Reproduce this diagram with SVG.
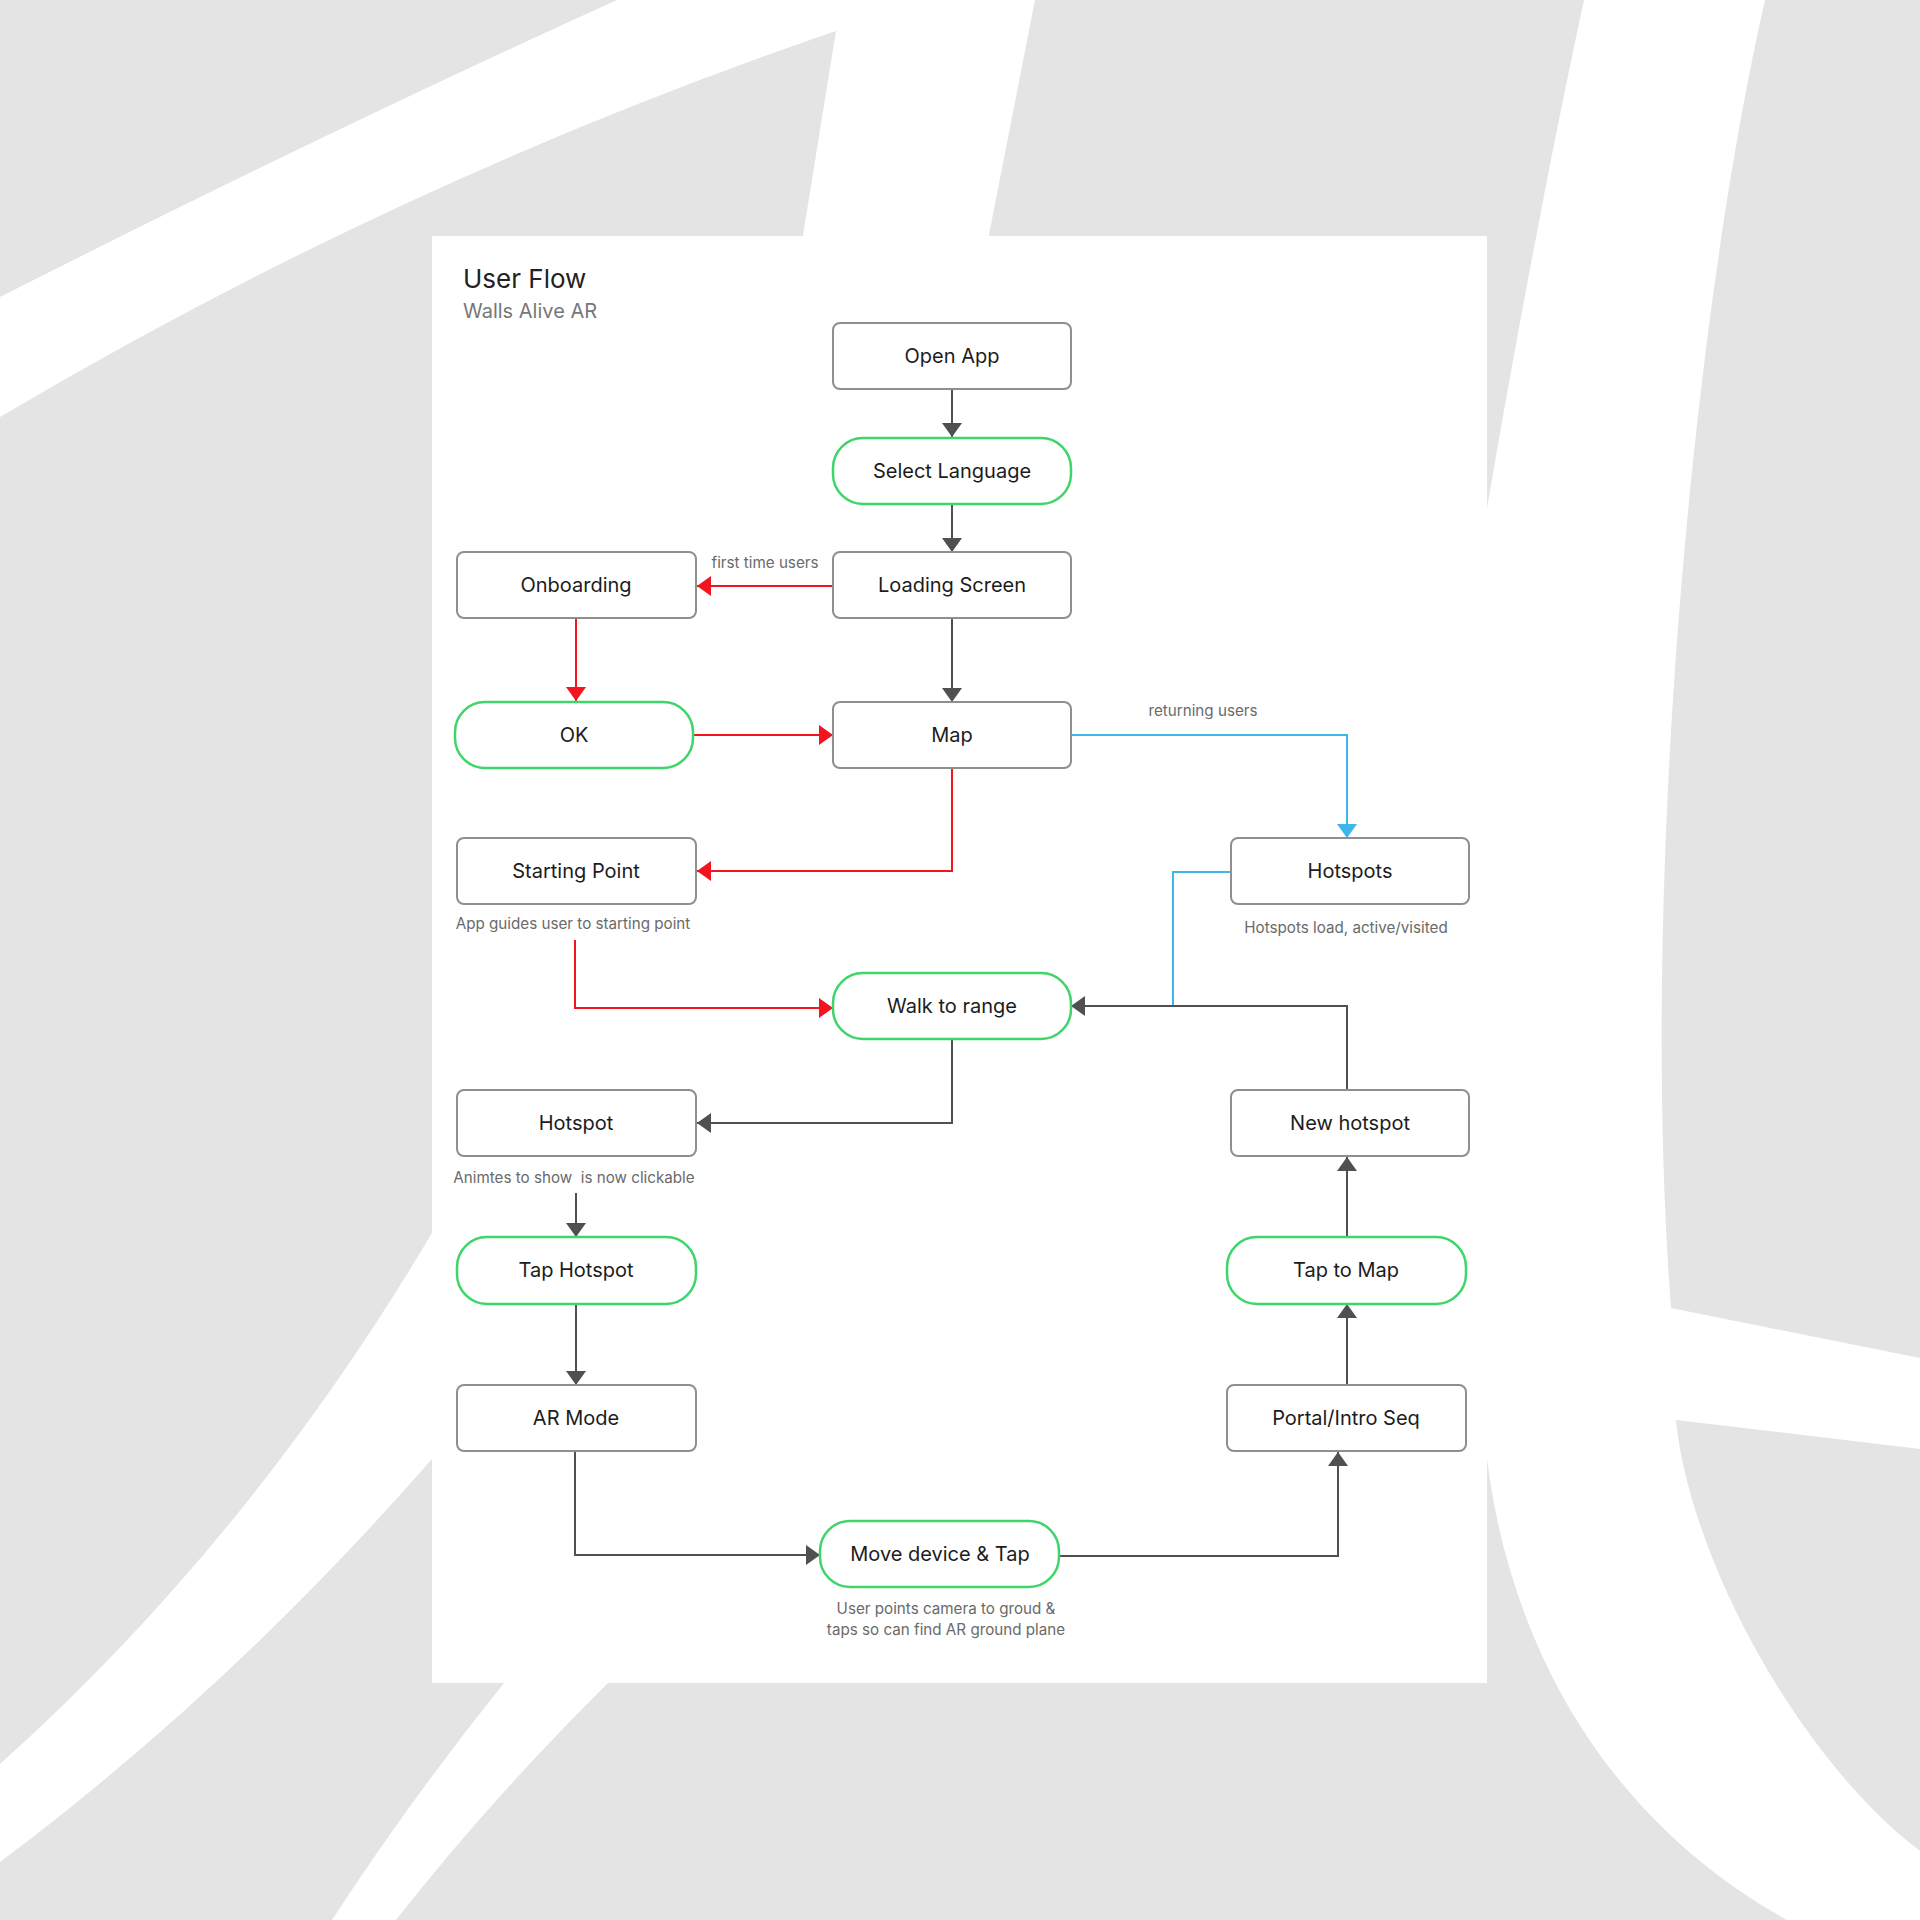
<svg xmlns="http://www.w3.org/2000/svg" width="1920" height="1920" viewBox="0 0 1920 1920">
<defs>
<style>
.bgw{fill:#ffffff;stroke:none}
.box{fill:#ffffff;stroke:#8f8f8f;stroke-width:2}
.pill{fill:#ffffff;stroke:#3fd56b;stroke-width:2.5}
.lbl{font-family:Inter,"Liberation Sans",sans-serif;font-size:20px;fill:#1c1c1c;text-anchor:middle}
.note{font-family:Inter,"Liberation Sans",sans-serif;font-size:15.2px;fill:#6a6a6a;text-anchor:middle;white-space:pre}
.dark{fill:none;stroke:#505050;stroke-width:2}
.red{fill:none;stroke:#f2141f;stroke-width:2}
.blue{fill:none;stroke:#3db6ec;stroke-width:2}
</style>
<marker id="ad" viewBox="0 0 14 20" refX="14" refY="10" markerWidth="14" markerHeight="20" markerUnits="userSpaceOnUse" orient="auto"><path d="M0,0 L14,10 L0,20 Z" fill="#505050"/></marker>
<marker id="ar" viewBox="0 0 14 20" refX="14" refY="10" markerWidth="14" markerHeight="20" markerUnits="userSpaceOnUse" orient="auto"><path d="M0,0 L14,10 L0,20 Z" fill="#f2141f"/></marker>
<marker id="ab" viewBox="0 0 14 20" refX="14" refY="10" markerWidth="14" markerHeight="20" markerUnits="userSpaceOnUse" orient="auto"><path d="M0,0 L14,10 L0,20 Z" fill="#3db6ec"/></marker>
</defs>

<g id="background">
<rect x="0" y="0" width="1920" height="1920" fill="#e4e4e4"/>
<path class="bgw" d="M0,297 Q330,130 617,0 L1035,0 L984,260 L799,260 L836,31 Q400,180 0,417 Z"/>
<path class="bgw" d="M1584,0 L1765,0 C1690,330 1640,900 1671,1308 L1920,1358 L1920,1449 L1676,1420 C1690,1560 1800,1760 1920,1851 L1920,1920 L1787,1920 C1590,1810 1500,1620 1484,1430 L1480,550 C1505,400 1545,180 1584,0 Z"/>
<path class="bgw" d="M460,1200 L432,1233 Q250,1540 0,1764 L0,1862 Q230,1690 432,1459 L460,1459 Z"/>
<path class="bgw" d="M520,1660 L626,1660 L608,1683 Q490,1800 396,1920 L332,1920 Q410,1800 504,1683 Z"/>
<rect x="432" y="236" width="1055" height="1447" fill="#ffffff"/>
</g>

<g id="title">
<text x="463" y="288" font-family="Inter,'Liberation Sans',sans-serif" font-size="26" fill="#222222">User Flow</text>
<text x="463" y="318" font-family="Inter,'Liberation Sans',sans-serif" font-size="20" fill="#777777">Walls Alive AR</text>
</g>

<g id="connectors">
<path class="dark" d="M952,389 V437" marker-end="url(#ad)"/>
<path class="dark" d="M952,504 V552" marker-end="url(#ad)"/>
<path class="red" d="M833,586 H697" marker-end="url(#ar)"/>
<path class="dark" d="M952,618 V702" marker-end="url(#ad)"/>
<path class="red" d="M576,618 V701" marker-end="url(#ar)"/>
<path class="red" d="M693,735 H833" marker-end="url(#ar)"/>
<path class="red" d="M952,768 V871 H697" marker-end="url(#ar)"/>
<path class="blue" d="M1071,735 H1347 V838" marker-end="url(#ab)"/>
<path class="blue" d="M1231,872 H1173 V1006"/>
<path class="dark" d="M1347,1090 V1006 H1071" marker-end="url(#ad)"/>
<path class="red" d="M575,940 V1008 H833" marker-end="url(#ar)"/>
<path class="dark" d="M952,1040 V1123 H697" marker-end="url(#ad)"/>
<path class="dark" d="M576,1193 V1237" marker-end="url(#ad)"/>
<path class="dark" d="M576,1304 V1385" marker-end="url(#ad)"/>
<path class="dark" d="M575,1452 V1555 H820" marker-end="url(#ad)"/>
<path class="dark" d="M1059,1556 H1338 V1452" marker-end="url(#ad)"/>
<path class="dark" d="M1347,1385 V1304" marker-end="url(#ad)"/>
<path class="dark" d="M1347,1237 V1157" marker-end="url(#ad)"/>
<text class="note" x="765" y="568">first time users</text>
<text class="note" x="1203" y="716">returning users</text>
</g>

<g id="n-open-app"><rect class="box" x="833" y="323" width="238" height="66" rx="7"/><text class="lbl" x="952" y="363">Open App</text></g>
<g id="n-select-language"><rect class="pill" x="833" y="438" width="238" height="66" rx="30"/><text class="lbl" x="952" y="478">Select Language</text></g>
<g id="n-loading-screen"><rect class="box" x="833" y="552" width="238" height="66" rx="7"/><text class="lbl" x="952" y="592">Loading Screen</text></g>
<g id="n-onboarding"><rect class="box" x="457" y="552" width="239" height="66" rx="7"/><text class="lbl" x="576" y="592">Onboarding</text></g>
<g id="n-ok"><rect class="pill" x="455" y="702" width="238" height="66" rx="30"/><text class="lbl" x="574" y="742">OK</text></g>
<g id="n-map"><rect class="box" x="833" y="702" width="238" height="66" rx="7"/><text class="lbl" x="952" y="742">Map</text></g>
<g id="n-starting-point"><rect class="box" x="457" y="838" width="239" height="66" rx="7"/><text class="lbl" x="576" y="878">Starting Point</text><text class="note" x="573" y="929">App guides user to starting point</text></g>
<g id="n-hotspots"><rect class="box" x="1231" y="838" width="238" height="66" rx="7"/><text class="lbl" x="1350" y="878">Hotspots</text><text class="note" x="1346" y="933">Hotspots load, active/visited</text></g>
<g id="n-walk-to-range"><rect class="pill" x="833" y="973" width="238" height="66" rx="30"/><text class="lbl" x="952" y="1013">Walk to range</text></g>
<g id="n-hotspot"><rect class="box" x="457" y="1090" width="239" height="66" rx="7"/><text class="lbl" x="576" y="1130">Hotspot</text><text class="note" x="574" y="1183">Animtes to show  is now clickable</text></g>
<g id="n-new-hotspot"><rect class="box" x="1231" y="1090" width="238" height="66" rx="7"/><text class="lbl" x="1350" y="1130">New hotspot</text></g>
<g id="n-tap-hotspot"><rect class="pill" x="457" y="1237" width="239" height="67" rx="30"/><text class="lbl" x="576" y="1277">Tap Hotspot</text></g>
<g id="n-tap-to-map"><rect class="pill" x="1227" y="1237" width="239" height="67" rx="30"/><text class="lbl" x="1346" y="1277">Tap to Map</text></g>
<g id="n-ar-mode"><rect class="box" x="457" y="1385" width="239" height="66" rx="7"/><text class="lbl" x="576" y="1425">AR Mode</text></g>
<g id="n-portal"><rect class="box" x="1227" y="1385" width="239" height="66" rx="7"/><text class="lbl" x="1346" y="1425">Portal/Intro Seq</text></g>
<g id="n-move-device"><rect class="pill" x="820" y="1521" width="239" height="66" rx="30"/><text class="lbl" x="940" y="1561">Move device &amp; Tap</text><text class="note" x="946" y="1614">User points camera to groud &amp;</text><text class="note" x="946" y="1635">taps so can find AR ground plane</text></g>
</svg>
